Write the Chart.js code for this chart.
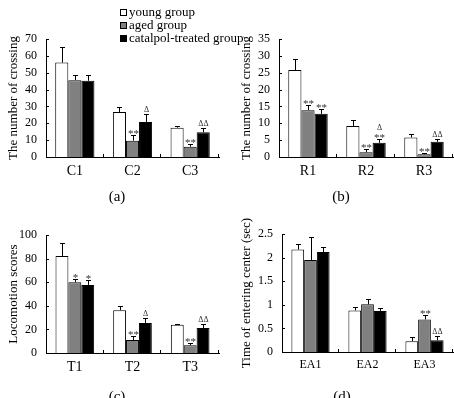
<!DOCTYPE html>
<html><head><meta charset="utf-8">
<script src="https://cdn.jsdelivr.net/npm/chart.js@4.4.0/dist/chart.umd.min.js"></script>
<style>
html,body{margin:0;padding:0;background:#fff;}
#wrap{position:relative;width:454px;height:398px;overflow:hidden;background:#fff;}
canvas{position:absolute;left:0;top:0;}
</style></head><body><div id="wrap">
<canvas id="ca" width="454" height="398"></canvas>
<canvas id="cb" width="454" height="398"></canvas>
<canvas id="cc" width="454" height="398"></canvas>
<canvas id="cd" width="454" height="398"></canvas>
</div>
<script>
// ---- data ----
const seriesNames = ['young group', 'aged group', 'catalpol-treated group'];

const catsA = ['C1', 'C2', 'C3'];
const youngA = [56, 26.7, 17.4];   const youngAErr = [9, 3, 1.2];
const agedA = [45.6, 9.7, 6.1];    const agedAErr = [3.2, 3.2, 1.8];
const catalA = [45.2, 20.8, 14.7]; const catalAErr = [3.6, 4.6, 2.6];
const agedAMarks = [[], ['**'], ['**']];
const catalAMarks = [[], ['Δ'], ['ΔΔ']];
const ticksA = [0, 10, 20, 30, 40, 50, 60, 70];

const catsB = ['R1', 'R2', 'R3'];
const youngB = [25.8, 9.2, 5.8];   const youngBErr = [3.3, 1.7, 0.9];
const agedB = [13.9, 1.4, 0.8];    const agedBErr = [1.4, 0.9, 0.3];
const catalB = [12.8, 4.2, 4.5];   const catalBErr = [1.3, 1.0, 0.9];
const agedBMarks = [['**'], ['**'], ['**']];
const catalBMarks = [['**'], ['**', 'Δ'], ['ΔΔ']];
const ticksB = [0, 5, 10, 15, 20, 25, 30, 35];

const catsC = ['T1', 'T2', 'T3'];
const youngC = [82.3, 36.3, 24];   const youngCErr = [10.7, 3.7, 0.5];
const agedC = [60, 11, 6.5];       const agedCErr = [2.8, 3.6, 1.7];
const catalC = [57.7, 25.4, 21.1]; const catalCErr = [4, 4.2, 3.7];
const agedCMarks = [['*'], ['**'], ['**']];
const catalCMarks = [['*'], ['Δ'], ['ΔΔ']];
const ticksC = [0, 20, 40, 60, 80, 100];

const catsD = ['EA1', 'EA2', 'EA3'];
const youngD = [2.17, 0.88, 0.23]; const youngDErr = [0.11, 0.08, 0.09];
const agedD = [1.95, 1.01, 0.69];  const agedDErr = [0.48, 0.11, 0.10];
const catalD = [2.12, 0.87, 0.25]; const catalDErr = [0.10, 0.07, 0.08];
const agedDMarks = [[], [], ['**']];
const catalDMarks = [[], [], ['ΔΔ']];
const ticksD = [0, 0.5, 1, 1.5, 2, 2.5];

const titles = ['The number of crossing', 'The number of crossing', 'Locomotion scores', 'Time of entering center (sec)'];
const captions = ['(a)', '(b)', '(c)', '(d)'];

// ---- styling ----
const FONT = 'Liberation Serif';
Chart.defaults.font.family = FONT;
Chart.defaults.color = '#000';
const fills = ['#ffffff', '#808080', '#000000'];

const deco = {
  id: 'deco',
  afterDatasetsDraw(chart) {
    const o = chart.options.plugins.deco;
    const ctx = chart.ctx, xs = chart.scales.x, ys = chart.scales.y;
    ctx.save();
    ctx.strokeStyle = '#000'; ctx.lineWidth = 1;
    chart.data.datasets.forEach((ds, di) => {
      const meta = chart.getDatasetMeta(di);
      meta.data.forEach((bar, i) => {
        const bx = Math.round(bar.x) + 0.5;
        const yt = ys.getPixelForValue(ds.data[i]);
        const ye = Math.round(ys.getPixelForValue(ds.data[i] + ds.err[i])) + 0.5;
        ctx.strokeStyle = '#000';
        ctx.beginPath();
        ctx.moveTo(bx, yt); ctx.lineTo(bx, ye);
        ctx.moveTo(bx - 2.5, ye); ctx.lineTo(bx + 2.5, ye);
        ctx.stroke();
        const marks = ds.marks ? ds.marks[i] : [];
        let base = ye;
        marks.forEach(m => {
          ctx.textAlign = 'center'; ctx.textBaseline = 'alphabetic';
          ctx.fillStyle = '#333';
          if (m.indexOf('*') >= 0) {
            ctx.font = '11px ' + FONT;
            ctx.fillText(m, bx, base + 1);
            base -= 7;
          } else {
            ctx.font = '8px ' + FONT;
            ctx.fillText(m, bx, base - 3);
            base -= 8;
          }
        });
      });
    });
    // inward tick marks
    ctx.strokeStyle = '#000';
    ctx.beginPath();
    ys.ticks.forEach(t => {
      const py = Math.round(ys.getPixelForValue(t.value)) + 0.5;
      ctx.moveTo(ys.right, py); ctx.lineTo(ys.right + 3, py);
    });
    for (let i = 0; i < chart.data.labels.length; i++) {
      const px = Math.round(xs.getPixelForValue(i + 0.5)) - 0.5;
      ctx.moveTo(px, xs.top); ctx.lineTo(px, xs.top - 3);
    }
    ctx.stroke();
    // caption
    ctx.fillStyle = '#000'; ctx.font = '15px ' + FONT;
    ctx.textAlign = 'center'; ctx.textBaseline = 'middle';
    ctx.fillText(o.caption, o.cx, o.cy);
    // legend
    if (o.legend) {
      ctx.font = '13px ' + FONT; ctx.textAlign = 'left';
      chart.data.datasets.forEach((ds, di) => {
        const cy = 13 + di * 13;
        ctx.fillStyle = fills[di];
        ctx.fillRect(120.5, cy - 3.5, 6, 6);
        ctx.strokeStyle = '#000';
        ctx.strokeRect(120.5, cy - 3.5, 6, 6);
        ctx.fillStyle = '#000';
        ctx.fillText(ds.label, 129, cy);
      });
    }
    ctx.restore();
  }
};

function makeChart(id, cats, vals, errs, marks, ticks, box, title, caption, legend) {
  const datasets = vals.map((v, k) => ({
    label: seriesNames[k], data: v, err: errs[k], marks: marks[k],
    backgroundColor: fills[k], borderColor: '#000', borderWidth: 1,
    barPercentage: 1.0, categoryPercentage: box.cp
  }));
  return new Chart(document.getElementById(id), {
    type: 'bar',
    data: { labels: cats, datasets },
    plugins: [deco],
    options: {
      responsive: false, animation: false, devicePixelRatio: 1,
      layout: { padding: { left: box.bl, top: box.T, right: 454 - box.R, bottom: 0 } },
      plugins: {
        legend: { display: false }, tooltip: { enabled: false },
        deco: { caption: caption, cx: box.cx, cy: box.cy, legend: legend }
      },
      scales: {
        x: {
          grid: { display: false, drawTicks: false }, border: { display: true, color: '#000', width: 1 },
          ticks: { font: { size: box.xf }, color: '#000', padding: 6 },
          afterFit: s => { s.height = 398 - box.B; }
        },
        y: {
          min: ticks[0], max: ticks[ticks.length - 1],
          afterBuildTicks: s => { s.ticks = ticks.map(v => ({ value: v })); },
          grid: { display: false, drawTicks: false }, border: { display: true, color: '#000', width: 1 },
          ticks: { font: { size: 12 }, color: '#000', padding: 9, autoSkip: false, callback: v => String(v) },
          title: { display: true, text: title, font: { size: 13 }, color: '#000', padding: 0 },
          afterFit: s => { s.width = box.L - box.bl; }
        }
      }
    }
  });
}

makeChart('ca', catsA, [youngA, agedA, catalA], [youngAErr, agedAErr, catalAErr],
  [[[], [], []], agedAMarks, catalAMarks], ticksA,
  { L: 46, R: 219, T: 39, B: 157, bl: 6, cp: 0.68, cx: 117, cy: 197, xf: 14 }, titles[0], captions[0], true);
makeChart('cb', catsB, [youngB, agedB, catalB], [youngBErr, agedBErr, catalBErr],
  [[[], [], []], agedBMarks, catalBMarks], ticksB,
  { L: 279, R: 453, T: 39, B: 157, bl: 239, cp: 0.68, cx: 341, cy: 197, xf: 14 }, titles[1], captions[1], false);
makeChart('cc', catsC, [youngC, agedC, catalC], [youngCErr, agedCErr, catalCErr],
  [[[], [], []], agedCMarks, catalCMarks], ticksC,
  { L: 46, R: 219, T: 235, B: 353, bl: 6, cp: 0.67, cx: 117, cy: 397, xf: 14 }, titles[2], captions[2], false);
makeChart('cd', catsD, [youngD, agedD, catalD], [youngDErr, agedDErr, catalDErr],
  [[[], [], []], agedDMarks, catalDMarks], ticksD,
  { L: 282, R: 453, T: 234, B: 352, bl: 239, cp: 0.67, cx: 342, cy: 397, xf: 12 }, titles[3], captions[3], false);
</script>
</body></html>
